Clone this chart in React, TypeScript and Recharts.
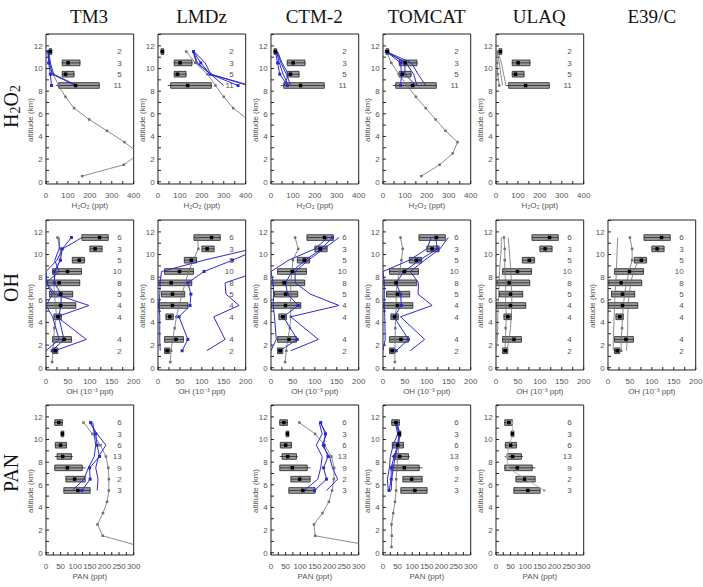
import React from "react";
import {
  ComposedChart,
  Scatter,
  XAxis,
  YAxis,
  ReferenceArea,
  ReferenceLine,
} from "recharts";

// altitude levels (km)
const ALT_MODEL = [11.5, 10.5, 9.5, 8.5, 7.5, 6.5, 5.5, 4.5, 3.5, 2.5, 1.5, 0.5];
const ALT_MODEL_OH = [11.5, 10.5, 9.5, 8.5, 7.5, 6.5, 5.5, 4.5, 3.5, 2.5, 1.5];
const ALT_H2O2 = [11.5, 10.5, 9.5, 8.5];
const ALT_OH = [11.5, 10.5, 9.5, 8.5, 7.5, 6.5, 5.5, 4.5, 2.5, 1.5];
const ALT_PAN = [11.5, 10.5, 9.5, 8.5, 7.5, 6.5, 5.5];

const MODELS = ["TM3", "LMDz", "CTM-2", "TOMCAT", "ULAQ", "E39/C"];

// observations: number of profiles, whiskers, box, mean
const H2O2_N = [2, 3, 5, 11];
const H2O2_LO = [12, 72, 72, 45];
const H2O2_Q1 = [14, 74, 74, 58];
const H2O2_Q3 = [26, 155, 128, 243];
const H2O2_HI = [28, 158, 130, 245];
const H2O2_MEAN = [20, 101, 89, 135];

const OH_N = [6, 3, 5, 10, 8, 5, 4, 4, 4, 2];
const OH_LO = [82, 100, 60, 15, 0, 8, 0, 18, 15, 15];
const OH_Q1 = [82, 100, 60, 15, 2, 8, 0, 18, 15, 15];
const OH_Q3 = [142, 128, 88, 81, 77, 61, 68, 35, 58, 27];
const OH_HI = [142, 128, 88, 81, 77, 61, 68, 35, 58, 27];
const OH_MEAN = [122, 112, 76, 49, 30, 33, 33, 27, 41, 21];

const PAN_N = [6, 3, 6, 13, 9, 2, 3];
const PAN_LO = [28, 52, 30, 30, 30, 68, 61];
const PAN_Q1 = [30, 52, 32, 38, 30, 68, 61];
const PAN_Q3 = [56, 61, 70, 87, 124, 134, 151];
const PAN_HI = [58, 61, 72, 92, 135, 134, 151];
const PAN_MEAN = [44, 56, 50, 57, 73, 98, 109];

// model profiles (gray = model mean, blue = along flight tracks)
const TM3_H2O2_GRAY = [9, 15, 32, 58, 89, 128, 197, 278, 358, 425, 355, 165];
const TM3_H2O2_BLUE = [[8, 12, 20, 25], [10, 15, 28, 135], [12, 20, 35, 140]];
const LMDZ_H2O2_GRAY = [129, 170, 225, 262, 300, 343, 410];
const LMDZ_H2O2_BLUE = [[162, 195, 238, 365], [162, 180, 240, 410], [165, 215, 240, 420], [160, 175, 240, 300]];
const CTM2_H2O2_BLUE = [[20, 30, 40, 75], [25, 38, 55, 80], [28, 45, 70, 90], [30, 50, 80, 60]];
const TOMCAT_H2O2_GRAY = [15, 38, 72, 110, 150, 195, 240, 285, 340, 318, 258, 175];
const TOMCAT_H2O2_BLUE = [[15, 80, 85, 80], [15, 100, 100, 150], [15, 105, 140, 155], [15, 130, 160, 195]];
const ULAQ_H2O2_GRAY = [[3, 5, 8, 15], [5, 15, 22, 30], [8, 25, 35, 45]];

const TM3_OH_GRAY = [26, 33, 32, 22, 18, 19, 22, 24, 19, 18, 16, 14];
const TM3_OH_BLUE = [
  [58, 37, 33, 19, 19, 35, 34, 29, 41, 14],
  [82, 38, 25, 0, 2, 20, 98, 25, 92, 20],
  [30, 30, 20, 30, 0, 15, 0, 15, 30, 0],
];
const LMDZ_OH_GRAY = [90, 92, 80, 70, 62, 55, 48, 42, 38, 33, 30, 28];
const LMDZ_OH_BLUE = [
  [260, 230, 170, 105, 68, 75, 73, 48, 68, 55],
  [null, null, null, 230, 153, 155, 185, 127, 153, 111],
  [null, 215, 105, 8, 5, 4, 3, 4, 4, 5],
];
const CTM2_OH_GRAY = [55, 62, 50, 48, 45, 45, 45, 45, 43, 38, 35, 32];
const CTM2_OH_BLUE = [
  [140, 115, 78, 48, 33, 38, 62, 28, 60, 20],
  [155, 120, 85, 55, 55, 90, 155, 45, 108, 45],
  [130, 100, 40, 0, 5, 6, 5, 8, 12, 0],
];
const TOMCAT_OH_GRAY = [40, 45, 42, 38, 32, 30, 30, 29, 28, 28, 27, 27];
const TOMCAT_OH_BLUE = [
  [120, 124, 83, 48, 30, 40, 42, 25, 58, 30],
  [149, 130, 95, 62, 81, 80, 112, 40, 95, 62],
  [110, 100, 60, 0, 3, 3, 3, 4, 5, 0],
];
const ULAQ_OH_GRAY = [
  [18, 20, 20, 20, 22, 22, 22, 24, 22, 22, 20],
  [28, 30, 32, 34, 35, 36, 36, 35, 33, 30, 25],
  [12, 12, 10, 8, 7, 6, 5, 4, 4, 3, 0],
];
const E39_OH_GRAY = [
  [50, 55, 55, 48, 42, 38, 35, 33, 32, 30, 30],
  [22, 21, 20, 19, 18, 16, 15, 14, 13, 12, 12],
  [null, null, 70, 58, 52, 48, 46, 45, 45, 44, 42],
];

const TM3_PAN_GRAY = [128, 159, 186, 205, 213, 215, 215, 209, 195, 176, 194, 330];
const TM3_PAN_BLUE = [
  [153, 170, 175, 183, 149, 151, 123],
  [160, 165, 170, 165, 145, 130, 90],
  [150, 175, 205, 180, 170, 178, 175],
];
const CTM2_PAN_GRAY = [97, 151, 184, 207, 216, 215, 209, 198, 176, 147, 151, 370];
const CTM2_PAN_BLUE = [
  [170, 186, 180, 195, 180, 190, 149],
  [165, 175, 155, 175, 170, 160, 114],
  [168, 190, 175, 200, 210, 228, 190],
];
const TOMCAT_PAN_GRAY = [44, 55, 55, 50, 48, 45, 45, 41, 35, 29, 30, 29];
const TOMCAT_PAN_BLUE = [
  [45, 55, 50, 38, 28, 28, 21],
  [42, 50, 35, 25, 22, 15, 18],
  [48, 58, 52, 42, 35, 30, 28],
];
const ULAQ_PAN_GRAY = [55, 58, 45, 38, 40, 102, 165];

const GRAY = "#707070";
const BLUE = "#2a2ad0";
const LIGHT = "#a9a9a9";
const TXT = "#555";

type Obs = { alt: number[]; n: number[]; lo: number[]; q1: number[]; q3: number[]; hi: number[]; mean: number[] };
type Sp = { xMax: number; ticks: number[]; major: number; label: string; obs: Obs };

const SPECIES: Record<string, Sp> = {
  H2O2: {
    xMax: 400,
    ticks: [0, 50, 100, 150, 200, 250, 300, 350, 400],
    major: 100,
    label: "H₂O₂ (ppt)",
    obs: { alt: ALT_H2O2, n: H2O2_N, lo: H2O2_LO, q1: H2O2_Q1, q3: H2O2_Q3, hi: H2O2_HI, mean: H2O2_MEAN },
  },
  OH: {
    xMax: 200,
    ticks: [0, 25, 50, 75, 100, 125, 150, 175, 200],
    major: 50,
    label: "OH (10⁻³ ppt)",
    obs: { alt: ALT_OH, n: OH_N, lo: OH_LO, q1: OH_Q1, q3: OH_Q3, hi: OH_HI, mean: OH_MEAN },
  },
  PAN: {
    xMax: 300,
    ticks: [0, 25, 50, 75, 100, 125, 150, 175, 200, 225, 250, 275, 300],
    major: 50,
    label: "PAN (ppt)",
    obs: { alt: ALT_PAN, n: PAN_N, lo: PAN_LO, q1: PAN_Q1, q3: PAN_Q3, hi: PAN_HI, mean: PAN_MEAN },
  },
};

type Profile = { alt: number[]; val: (number | null)[]; color: string; marks: boolean };
const prof = (alt: number[], val: (number | null)[], color: string, marks = false): Profile => ({ alt, val, color, marks });
const blues = (alt: number[], sets: (number | null)[][]) => sets.map((v, i) => prof(alt, v, BLUE, i === 0));
const grays = (alt: number[], sets: (number | null)[][]) => sets.map((v, i) => prof(alt, v, GRAY, i === 0));

type Panel = { row: number; col: number; sp: string; profiles: Profile[] };

const PANELS: Panel[] = [
  { row: 0, col: 0, sp: "H2O2", profiles: [prof(ALT_MODEL, TM3_H2O2_GRAY, GRAY, true), ...blues(ALT_H2O2, TM3_H2O2_BLUE)] },
  { row: 0, col: 1, sp: "H2O2", profiles: [prof(ALT_MODEL, LMDZ_H2O2_GRAY, GRAY, true), ...blues(ALT_H2O2, LMDZ_H2O2_BLUE)] },
  { row: 0, col: 2, sp: "H2O2", profiles: blues(ALT_H2O2, CTM2_H2O2_BLUE) },
  { row: 0, col: 3, sp: "H2O2", profiles: [prof(ALT_MODEL, TOMCAT_H2O2_GRAY, GRAY, true), ...blues(ALT_H2O2, TOMCAT_H2O2_BLUE)] },
  { row: 0, col: 4, sp: "H2O2", profiles: grays(ALT_H2O2, ULAQ_H2O2_GRAY) },
  { row: 1, col: 0, sp: "OH", profiles: [prof(ALT_MODEL, TM3_OH_GRAY, GRAY, true), ...blues(ALT_OH, TM3_OH_BLUE)] },
  { row: 1, col: 1, sp: "OH", profiles: [prof(ALT_MODEL, LMDZ_OH_GRAY, GRAY, true), ...blues(ALT_OH, LMDZ_OH_BLUE)] },
  { row: 1, col: 2, sp: "OH", profiles: [prof(ALT_MODEL, CTM2_OH_GRAY, GRAY, true), ...blues(ALT_OH, CTM2_OH_BLUE)] },
  { row: 1, col: 3, sp: "OH", profiles: [prof(ALT_MODEL, TOMCAT_OH_GRAY, GRAY, true), ...blues(ALT_OH, TOMCAT_OH_BLUE)] },
  { row: 1, col: 4, sp: "OH", profiles: grays(ALT_MODEL_OH, ULAQ_OH_GRAY) },
  { row: 1, col: 5, sp: "OH", profiles: grays(ALT_MODEL_OH, E39_OH_GRAY) },
  { row: 2, col: 0, sp: "PAN", profiles: [prof(ALT_MODEL, TM3_PAN_GRAY, GRAY, true), ...blues(ALT_PAN, TM3_PAN_BLUE)] },
  { row: 2, col: 2, sp: "PAN", profiles: [prof(ALT_MODEL, CTM2_PAN_GRAY, GRAY, true), ...blues(ALT_PAN, CTM2_PAN_BLUE)] },
  { row: 2, col: 3, sp: "PAN", profiles: [prof(ALT_MODEL, TOMCAT_PAN_GRAY, GRAY, true), ...blues(ALT_PAN, TOMCAT_PAN_BLUE)] },
  { row: 2, col: 4, sp: "PAN", profiles: [prof(ALT_PAN, ULAQ_PAN_GRAY, LIGHT, true)] },
];

// layout
const X0 = 45.7;
const COL_STEP = 112.55;
const Y0 = 34.3;
const ROW_STEP = 185.45;
const PW = 86.7;
const PH = 150;
const YW = 26;
const MT = 1;
const AX = 1; // thickness reserved by the top / right frame axes
const MR = 12;
const MB = 4;
const XH = 24;
const Y_DOMAIN: [number, number] = [-0.2, 13.05];
const Y_TICKS = [0, 1, 2, 3, 4, 5, 6, 7, 8, 9, 10, 11, 12, 13];
const BOX_H = 0.25;

const square = (size: number, color: string) => (p: any) =>
  <rect x={p.cx - size / 2} y={p.cy - size / 2} width={size} height={size} fill={color} />;
const none = () => <g />;

function PanelChart({ p }: { p: Panel }) {
  const s = SPECIES[p.sp];
  const o = s.obs;
  const tickFont = { fontSize: 8, fill: TXT };
  const means = o.alt.map((a, i) => ({ x: o.mean[i], y: a }));
  return (
    <div style={{ position: "absolute", left: X0 + p.col * COL_STEP - YW, top: Y0 + p.row * ROW_STEP - MT - AX }}>
      <ComposedChart width={YW + PW + 2 * AX + MR} height={MT + AX + PH + XH + MB} margin={{ top: MT, right: MR, bottom: MB, left: 0 }}>
        <XAxis
          type="number"
          dataKey="x"
          domain={[0, s.xMax]}
          allowDataOverflow
          ticks={s.ticks}
          interval={0}
          tickFormatter={(v: number) => (v % s.major === 0 ? String(v) : "")}
          tickSize={-3}
          tickMargin={11}
          height={XH}
          stroke="#222"
          tick={tickFont}
          label={{ value: s.label, position: "insideBottom", offset: 0, fontSize: 8, fill: TXT }}
        />
        <XAxis xAxisId="top" orientation="top" type="number" domain={[0, s.xMax]} allowDataOverflow ticks={s.ticks} interval={0} tick={false} tickSize={-3} height={AX} stroke="#222" />
        <YAxis
          type="number"
          dataKey="y"
          domain={Y_DOMAIN}
          allowDataOverflow
          ticks={Y_TICKS}
          interval={0}
          tickFormatter={(v: number) => (v % 2 === 0 && v <= 12 ? String(v) : "")}
          width={YW}
          tickSize={-3}
          tickMargin={6.4}
          stroke="#222"
          tick={tickFont}
          label={{ value: "altitude (km)", angle: -90, position: "insideLeft", offset: 10.3, dy: 11, fontSize: 8, fill: TXT, style: { textAnchor: "middle" } }}
        />
        <YAxis yAxisId="frame" orientation="right" type="number" domain={Y_DOMAIN} allowDataOverflow ticks={Y_TICKS} interval={0} tick={false} tickSize={-3} width={AX} stroke="#222" />
        <YAxis
          yAxisId="n"
          orientation="right"
          mirror
          type="number"
          domain={Y_DOMAIN}
          allowDataOverflow
          ticks={o.alt}
          interval={0}
          axisLine={false}
          tickLine={false}
          tickSize={0}
          tickMargin={12}
          width={AX}
          tick={tickFont}
          tickFormatter={(v: number) => String(o.n[o.alt.indexOf(v)])}
        />
        {o.alt.map((a, i) => (
          <ReferenceArea key={"b" + i} x1={o.q1[i]} x2={o.q3[i]} y1={a - BOX_H} y2={a + BOX_H} fill="#9c9c9c" fillOpacity={1} stroke="#222" strokeWidth={0.8} ifOverflow="hidden" />
        ))}
        {o.alt.map((a, i) => (
          <ReferenceLine key={"w" + i} segment={[{ x: o.lo[i], y: a }, { x: o.hi[i], y: a }]} stroke="#222" strokeWidth={0.8} ifOverflow="hidden" />
        ))}
        {p.profiles.map((pr, k) => {
          const pts = pr.alt
            .map((a, i) => ({ x: pr.val[i], y: a }))
            .filter((d) => d.x !== null && d.x !== undefined);
          return (
            <Scatter
              key={"p" + k}
              data={pts}
              line={{ stroke: pr.color, strokeWidth: pr.color === BLUE ? 1 : 0.8 }}
              shape={pr.marks ? square(pr.color === BLUE ? 3 : 2.5, pr.color) : none}
              isAnimationActive={false}
            />
          );
        })}
        <Scatter data={means} shape={square(3.5, "#000")} isAnimationActive={false} />
      </ComposedChart>
    </div>
  );
}

const ROWS = [
  { key: "H2O2", y: 107, node: <>H<sub style={{ fontSize: "0.7em", lineHeight: 0 }}>2</sub>O<sub style={{ fontSize: "0.7em", lineHeight: 0 }}>2</sub></> },
  { key: "OH", y: 288, node: <>OH</> },
  { key: "PAN", y: 473, node: <>PAN</> },
];

export default function App() {
  return (
    <div style={{ position: "absolute", left: 0, top: 0, width: 703, height: 587, background: "#fff", fontFamily: '"Liberation Sans", Arial, sans-serif' }}>
      {MODELS.map((m, c) => (
        <div
          key={m}
          style={{
            position: "absolute",
            left: X0 + c * COL_STEP + PW / 2 - 60,
            width: 120,
            top: 7.4,
            textAlign: "center",
            fontFamily: '"Liberation Serif", serif',
            fontSize: 19,
            lineHeight: "19px",
            color: "#111",
          }}
        >
          {m}
        </div>
      ))}
      {ROWS.map((r) => (
        <div
          key={r.key}
          style={{
            position: "absolute",
            left: 0,
            width: 26,
            top: r.y - 45,
            height: 90,
            display: "flex",
            alignItems: "center",
            justifyContent: "center",
            writingMode: "vertical-rl",
            transform: "rotate(180deg)",
            fontFamily: '"Liberation Serif", serif',
            fontSize: 20,
            lineHeight: "20px",
            whiteSpace: "nowrap",
            color: "#111",
          }}
        >
          <span style={{ paddingLeft: 4 }}>{r.node}</span>
        </div>
      ))}
      {PANELS.map((p, i) => (
        <PanelChart key={i} p={p} />
      ))}
    </div>
  );
}
